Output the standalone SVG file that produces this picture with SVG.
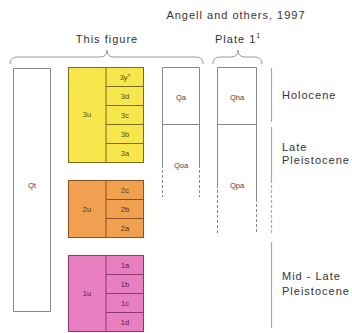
<svg xmlns="http://www.w3.org/2000/svg" width="352" height="333" viewBox="0 0 352 333">
<style>
.t{font-family:"Liberation Sans",Arial,sans-serif;font-size:11px;fill:#333;letter-spacing:1px}
.s{font-family:"Liberation Sans",Arial,sans-serif;font-size:7.5px;fill:#444;text-anchor:middle}
.sy{fill:#5a4c10}
.so{fill:#5a3010}
.sp{fill:#5a2048}
.brace{fill:none;stroke:#999;stroke-width:1}
.box{fill:#fff;stroke:#888;stroke-width:1}
.ln{stroke:#888;stroke-width:1;fill:none}
.dash{stroke:#888;stroke-width:1;stroke-dasharray:3,2;fill:none}
.bar{stroke:#aaa;stroke-width:1.2;fill:none}
.bard{stroke:#aaa;stroke-width:1.2;stroke-dasharray:3,2;fill:none}
.y{fill:#f7e64c;stroke:#7a6a1a;stroke-width:1}
.yl{stroke:#7a6a1a;stroke-width:1}
.o{fill:#f0a04e;stroke:#8a5020;stroke-width:1}
.ol{stroke:#8a5020;stroke-width:1}
.p{fill:#e87fc0;stroke:#8a3a70;stroke-width:1}
.pl{stroke:#8a3a70;stroke-width:1}
</style>
<g id="headers">
<text class="t" x="236" y="19" text-anchor="middle">Angell and others, 1997</text>
<text class="t" x="107" y="43" text-anchor="middle">This figure</text>
<text class="t" x="215" y="43">Plate 1<tspan font-size="7" dy="-5">1</tspan></text>
<path class="brace" d="M10,64 Q10,57 17,57 L100,57 Q107,57 107,50 Q107,57 114,57 L196,57 Q203,57 203,64"/>
<path class="brace" d="M213,64 Q213,57 220,57 L231,57 Q238,57 238,50 Q238,57 245,57 L255,57 Q262,57 262,64"/>
</g>
<g id="Qt">
<rect class="box" x="13.5" y="68.5" width="37" height="243"/>
<text class="s" x="32" y="188">Qt</text>
</g>
<g id="unit3">
<rect class="y" x="68.5" y="67.5" width="75" height="95"/>
<line class="yl" x1="106" y1="67.5" x2="106" y2="162.5"/>
<line class="yl" x1="106" y1="86.5" x2="143.5" y2="86.5"/>
<line class="yl" x1="106" y1="105.5" x2="143.5" y2="105.5"/>
<line class="yl" x1="106" y1="124.5" x2="143.5" y2="124.5"/>
<line class="yl" x1="106" y1="143.5" x2="143.5" y2="143.5"/>
<text class="s sy" x="87" y="117">3u</text>
<text class="s sy" x="125" y="80">3y<tspan font-size="5" dy="-2">?</tspan></text>
<text class="s sy" x="125" y="99">3d</text>
<text class="s sy" x="125" y="118">3c</text>
<text class="s sy" x="125" y="137">3b</text>
<text class="s sy" x="125" y="156">3a</text>
</g>
<g id="unit2">
<rect class="o" x="68.5" y="180.5" width="75" height="57"/>
<line class="ol" x1="106" y1="180.5" x2="106" y2="237.5"/>
<line class="ol" x1="106" y1="199.5" x2="143.5" y2="199.5"/>
<line class="ol" x1="106" y1="218.5" x2="143.5" y2="218.5"/>
<text class="s so" x="87" y="212">2u</text>
<text class="s so" x="125" y="193">2c</text>
<text class="s so" x="125" y="212">2b</text>
<text class="s so" x="125" y="231">2a</text>
</g>
<g id="unit1">
<rect class="p" x="68.5" y="255.5" width="75" height="76"/>
<line class="pl" x1="106" y1="255.5" x2="106" y2="331.5"/>
<line class="pl" x1="106" y1="274.5" x2="143.5" y2="274.5"/>
<line class="pl" x1="106" y1="293.5" x2="143.5" y2="293.5"/>
<line class="pl" x1="106" y1="312.5" x2="143.5" y2="312.5"/>
<text class="s sp" x="87" y="296">1u</text>
<text class="s sp" x="125" y="268">1a</text>
<text class="s sp" x="125" y="287">1b</text>
<text class="s sp" x="125" y="306">1c</text>
<text class="s sp" x="125" y="325">1d</text>
</g>
<g id="Qa">
<path class="ln" d="M162.5,168 V67.5 H199.5 V168"/>
<line class="ln" x1="162.5" y1="124.5" x2="199.5" y2="124.5" stroke="#555"/>
<path class="dash" d="M162.5,170 V197 M199.5,170 V197"/>
<text class="s" x="181" y="100">Qa</text>
<text class="s" x="181" y="168">Qoa</text>
</g>
<g id="Qha">
<path class="ln" d="M217.5,188 V67.5 H256.5 V202"/>
<line class="ln" x1="217.5" y1="124.5" x2="256.5" y2="124.5" stroke="#555"/>
<path class="dash" d="M217.5,190 V233 M256.5,204 V233"/>
<text class="s" x="237" y="100">Qha</text>
<text class="s" x="237" y="188">Qpa</text>
</g>
<g id="epochs">
<line class="bar" x1="271.5" y1="68" x2="271.5" y2="122"/>
<line class="bar" x1="271.5" y1="127" x2="271.5" y2="183"/>
<line class="bard" x1="271.5" y1="185" x2="271.5" y2="234"/>
<line class="bar" x1="271.5" y1="242" x2="271.5" y2="328"/>
<text class="t" x="282" y="99">Holocene</text>
<text class="t" x="282" y="151">Late</text>
<text class="t" x="282" y="164">Pleistocene</text>
<text class="t" x="282" y="280">Mid - Late</text>
<text class="t" x="282" y="295">Pleistocene</text>
</g>
</svg>
